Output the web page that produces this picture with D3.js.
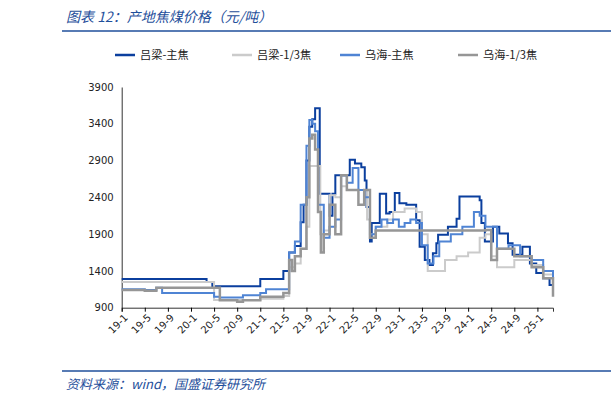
<!DOCTYPE html>
<html><head><meta charset="utf-8">
<script src="https://cdn.jsdelivr.net/npm/d3@7"></script>
<style>body{margin:0;background:#fff;font-family:"Noto Sans CJK SC",sans-serif}</style>
</head><body>
<script>
// months counted from 2019-01
var tickLabels = ["19-1","19-5","19-9","20-1","20-5","20-9","21-1","21-5","21-9","22-1","22-5","22-9","23-1","23-5","23-9","24-1","24-5","24-9","25-1"];
var yTicks = [900,1400,1900,2400,2900,3400,3900];

var llMainT = [0,14.7,15.7,24,28,29,30,31,31.5,32,32.5,33,33.5,34.3,36,36.5,37,38,39.5,40.4,41.5,42.1,42.4,43,43.3,44.7,45,45.8,46.4,47.3,48.1,49.3,51,51.6,52.5,53.3,53.9,54.5,54.8,56.5,58,58.5,62,62.3,62.9,64.3,65.4,66.9,67.7,69.4,70.7,71.8,73,74.1,74.7];
var llMainV = [1290,1250,1190,1290,1400,1650,1740,2060,2300,2900,3360,3460,3610,2450,2150,2450,2700,2700,2910,2860,2810,2630,2270,1800,2050,2450,2450,2180,2200,2460,2320,2300,2090,1730,1550,1480,1640,1775,1890,2000,2110,2410,2360,2050,1800,2000,1910,1775,1620,1730,1500,1370,1300,1210,1185];

var ll13T = [0,15.5,16,24,28,29,30,31,32,32.5,34.4,35,36,37,38,39,41.5,42.5,43,44,46,47,49,51,52,53,54,56,58,60,62,63,64,65,68,71,73,74.7];
var ll13V = [1250,1250,1005,1020,1060,1450,1500,1700,2000,2825,1900,1950,2430,2400,2550,2500,2500,2100,1900,2000,2100,2200,2250,2200,1900,1400,1400,1550,1600,1650,1850,1900,1600,1450,1550,1480,1350,1150];

var whMainT = [0,4,6,7,16,17,21,24,25,28,29,30,31,32,32.5,33,33.5,34,35,36,37,38,39,40,41,42,43,44,45,46,47,48,49,50,51,52,53,54,55,57,59,61,62,63,65,67,69,71,73,74.7];
var whMainV = [1150,1140,1170,1100,1050,1040,1070,1100,1150,1150,1650,1800,2300,3100,3450,3400,3300,2300,1850,2000,2100,2700,2600,2800,2500,2400,1900,2000,2100,2050,2100,2000,2050,2100,2050,1750,1500,1600,1800,1900,2000,2200,2150,2000,1700,1750,1600,1550,1400,1220];

var wh13T = [0,4,6,16,17,20,21,24,28,29,29.5,30,31,32,32.5,33,33.5,34,34.5,35,36,37,38,39,41,42,43,44,63,64,65,68,71,73,74.7];
var wh13V = [1140,1130,1170,1170,1000,980,1000,1050,1100,1550,1400,1600,1700,2400,3200,3250,3050,2200,1650,1900,2300,1900,2700,2500,2300,2500,1850,1950,1955,1550,1700,1600,1450,1300,1050];

var series = [
  {name:"吕梁-主焦", t:llMainT, v:llMainV, color:"#0b3f9e", w:2},
  {name:"吕梁-1/3焦", t:ll13T, v:ll13V, color:"#cbcbcb", w:2},
  {name:"乌海-主焦", t:whMainT, v:whMainV, color:"#4f84d4", w:2},
  {name:"乌海-1/3焦", t:wh13T, v:wh13V, color:"#969696", w:2.5}
];

var svg = d3.select("body").append("svg").attr("width",611).attr("height",403);

svg.append("text").attr("x",66).attr("y",22).attr("fill","#1f4f9b")
  .style("font-size","14px").style("font-style","italic").text("图表 12：产地焦煤价格（元/吨）");
svg.append("line").attr("x1",62).attr("x2",611).attr("y1",31).attr("y2",31).attr("stroke","#1f4f9b").attr("stroke-width",1.5);
svg.append("line").attr("x1",62).attr("x2",611).attr("y1",371).attr("y2",371).attr("stroke","#1f4f9b").attr("stroke-width",1.5);
svg.append("text").attr("x",66).attr("y",389).attr("fill","#1f4f9b")
  .style("font-size","13px").style("font-style","italic").text("资料来源：wind，国盛证券研究所");

var x = d3.scaleLinear().domain([0,74.7]).range([121.7,553]);
var y = d3.scaleLinear().domain([900,3900]).range([307.7,87]);

var xAxis = svg.append("g").attr("transform","translate(0,307.7)")
  .call(d3.axisBottom(x).tickValues(d3.range(0,73,4)).tickFormat(function(d,i){return tickLabels[i];}).tickSize(4));
xAxis.selectAll("text").attr("transform","rotate(-45)").style("text-anchor","end")
  .attr("dx","-0.3em").attr("dy","0.5em").style("font-size","10px").style("font-family","DejaVu Sans").attr("fill","#222");
xAxis.select(".domain").attr("stroke","#333");

var yAxis = svg.append("g").attr("transform","translate(121.7,0)")
  .call(d3.axisLeft(y).tickValues(yTicks).tickFormat(d3.format("d")).tickSize(0).tickPadding(8));
yAxis.selectAll("text").style("font-size","10px").style("font-family","DejaVu Sans").attr("fill","#222");
yAxis.select(".domain").attr("stroke","#333");

var line = d3.line().curve(d3.curveStepAfter).x(function(d){return x(d[0]);}).y(function(d){return y(d[1]);});
series.forEach(function(s){
  var pts = s.t.map(function(t,i){return [t,s.v[i]];});
  svg.append("path").datum(pts).attr("d",line).attr("fill","none")
    .attr("stroke",s.color).attr("stroke-width",s.w);
});

var lg = svg.append("g").attr("transform","translate(115,55)");
var offs = [0,117,225,343];
series.forEach(function(s,i){
  var g = lg.append("g").attr("transform","translate("+offs[i]+",0)");
  g.append("line").attr("x1",0).attr("x2",20).attr("stroke",s.color).attr("stroke-width",2.5);
  g.append("text").attr("x",25).attr("y",4).style("font-size",".7rem").attr("fill","#222").text(s.name);
});
</script>
</body></html>
